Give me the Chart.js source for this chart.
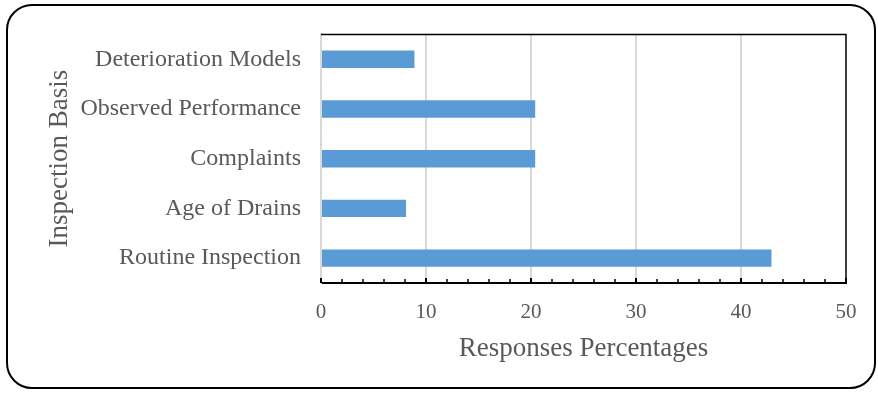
<!DOCTYPE html>
<html>
<head>
<meta charset="utf-8">
<script src="https://cdn.jsdelivr.net/npm/chart.js@4"></script>
<style>
  html, body { margin: 0; padding: 0; background: #fff; }
  #wrap { position: relative; width: 878px; height: 393px; }
  #frame {
    position: absolute; left: 6px; top: 4px; width: 870px; height: 385px;
    border: 2px solid #000; border-radius: 26px; box-sizing: border-box;
  }
  canvas { position: absolute; left: 0; top: 0; }
</style>
</head>
<body>
<div id="wrap">
  <div id="frame"></div>
  <canvas id="chart" width="878" height="393"></canvas>
</div>
<script>
const categories = ['Deterioration Models', 'Observed Performance', 'Complaints', 'Age of Drains', 'Routine Inspection'];
const responses = [8.9, 20.4, 20.4, 8.1, 42.9];
const xTicks = [0, 10, 20, 30, 40, 50];
const minorStep = 2;

const serif = "'Liberation Serif', 'Times New Roman', serif";
const grey = '#595959';

// frame lines on top/right and inward tick marks on the x axis
const axisExtras = {
  id: 'axisExtras',
  afterDraw(chart) {
    const { ctx, chartArea: a, scales: { x } } = chart;
    ctx.save();
    ctx.strokeStyle = '#000';
    ctx.lineWidth = 1.5;
    ctx.beginPath();
    ctx.moveTo(a.left, a.top);
    ctx.lineTo(a.right, a.top);
    ctx.lineTo(a.right, a.bottom);
    ctx.stroke();
    for (let v = 0; v <= 50; v += minorStep) {
      const px = x.getPixelForValue(v);
      const major = v % 10 === 0;
      ctx.lineWidth = major ? 2 : 1.5;
      ctx.beginPath();
      ctx.moveTo(px, a.bottom);
      ctx.lineTo(px, a.bottom - (major ? 5 : 4));
      ctx.stroke();
    }
    ctx.restore();
  }
};

new Chart(document.getElementById('chart'), {
  type: 'bar',
  data: {
    labels: categories,
    datasets: [{
      data: responses,
      backgroundColor: '#5B9BD5',
      categoryPercentage: 1,
      barPercentage: 0.35
    }]
  },
  plugins: [axisExtras],
  options: {
    indexAxis: 'y',
    responsive: false,
    animation: false,
    layout: { padding: { left: 44, right: 32, top: 33, bottom: 28 } },
    plugins: { legend: { display: false }, tooltip: { enabled: false } },
    scales: {
      x: {
        min: 0,
        max: 50,
        afterBuildTicks: s => { s.ticks = xTicks.map(v => ({ value: v })); },
        afterFit: s => { s.height = 82; },
        grid: {
          drawTicks: false,
          color: c => (c.tick && c.tick.value > 0 && c.tick.value < 50) ? '#d9d9d9' : 'rgba(0,0,0,0)',
          lineWidth: 2
        },
        border: { display: true, color: '#000', width: 2 },
        ticks: { padding: 17, color: grey, font: { family: serif, size: 21 } },
        title: {
          display: true,
          text: 'Responses Percentages',
          color: grey,
          font: { family: serif, size: 27 },
          padding: { top: 4, bottom: 0 }
        }
      },
      y: {
        afterFit: s => { s.width = 277; },
        grid: { display: false, drawTicks: false },
        border: { display: true, color: '#d9d9d9', width: 2 },
        ticks: { padding: 20, color: grey, font: { family: serif, size: 24 } },
        title: {
          display: true,
          text: 'Inspection Basis',
          color: grey,
          font: { family: serif, size: 27 },
          padding: { top: 0, bottom: 0 }
        }
      }
    }
  }
});
</script>
</body>
</html>
